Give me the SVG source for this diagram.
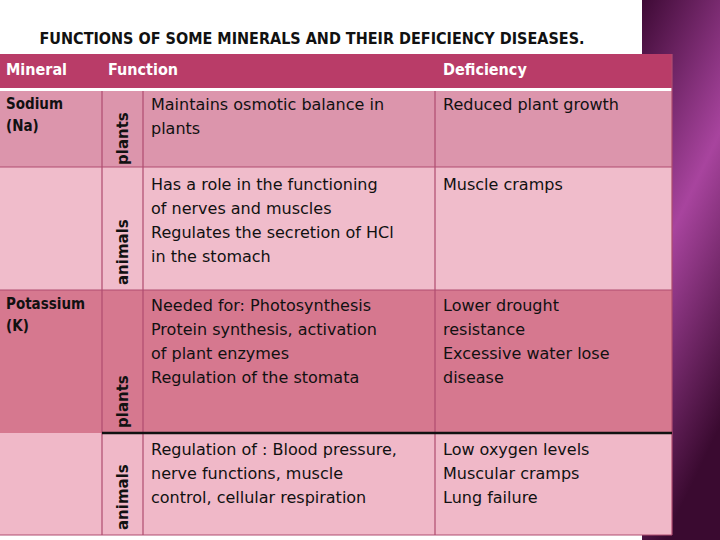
<svg xmlns="http://www.w3.org/2000/svg" width="720" height="540" viewBox="0 0 720 540">
<defs>
<linearGradient id="pg" x1="0" y1="0" x2="0.3" y2="1">
<stop offset="0" stop-color="#3e0a35"/><stop offset="0.5" stop-color="#a8449e"/><stop offset="1" stop-color="#3a0a30"/>
</linearGradient>
<style>
.t{font-family:"DejaVu Sans",sans-serif;font-size:16px;fill:#111}
.b{font-family:"DejaVu Sans Condensed","DejaVu Sans",sans-serif;font-weight:bold;font-size:15px;fill:#111}
.h{font-family:"DejaVu Sans Condensed","DejaVu Sans",sans-serif;font-weight:bold;font-size:16px;fill:#fff}
.v{font-family:"DejaVu Sans",sans-serif;font-weight:bold;font-size:15px;fill:#111}
.g{stroke:#b04c70;stroke-width:1.2;fill:none}
</style>
</defs>
<rect width="720" height="540" fill="#fff"/>
<rect x="642" y="0" width="78" height="540" fill="url(#pg)"/>
<text x="312" y="44" text-anchor="middle" class="b" textLength="545" lengthAdjust="spacingAndGlyphs">FUNCTIONS OF SOME MINERALS AND THEIR DEFICIENCY DISEASES.</text>
<g id="header">
<rect x="0" y="54" width="672" height="34" fill="#b93c68"/>
<text x="6" y="75" class="h">Mineral</text>
<text x="108" y="75" class="h">Function</text>
<text x="443" y="75" class="h">Deficiency</text>
</g>
<rect x="0" y="88" width="672" height="3" fill="#fff"/>
<g id="row1">
<rect x="0" y="91" width="672" height="76" fill="#dc95ac"/>
<text x="6" y="109" class="b">Sodium</text><text x="6" y="131" class="b">(Na)</text>
<text transform="translate(128,165) rotate(-90)" class="v">plants</text>
<text x="151" y="110" class="t">Maintains osmotic balance in</text><text x="151" y="134" class="t">plants</text>
<text x="443" y="110" class="t">Reduced plant growth</text>
</g>
<g id="row2">
<rect x="0" y="167" width="672" height="123" fill="#f0bccb"/>
<text transform="translate(128,285) rotate(-90)" class="v">animals</text>
<text x="151" y="190" class="t">Has a role in the functioning</text>
<text x="151" y="214" class="t">of nerves and muscles</text>
<text x="151" y="238" class="t">Regulates the secretion of HCl</text>
<text x="151" y="262" class="t">in the stomach</text>
<text x="443" y="190" class="t">Muscle cramps</text>
</g>
<g id="row3">
<rect x="0" y="290" width="672" height="143" fill="#d6788f"/>
<text x="6" y="309" class="b">Potassium</text><text x="6" y="331" class="b">(K)</text>
<text transform="translate(128,428) rotate(-90)" class="v">plants</text>
<text x="151" y="311" class="t">Needed for: Photosynthesis</text>
<text x="151" y="335" class="t">Protein synthesis, activation</text>
<text x="151" y="359" class="t">of plant enzymes</text>
<text x="151" y="383" class="t">Regulation of the stomata</text>
<text x="443" y="311" class="t">Lower drought</text>
<text x="443" y="335" class="t">resistance</text>
<text x="443" y="359" class="t">Excessive water lose</text>
<text x="443" y="383" class="t">disease</text>
</g>
<g id="row4">
<rect x="0" y="433" width="672" height="102" fill="#f0b8c8"/>
<text transform="translate(128,530) rotate(-90)" class="v">animals</text>
<text x="151" y="455" class="t">Regulation of : Blood pressure,</text>
<text x="151" y="479" class="t">nerve functions, muscle</text>
<text x="151" y="503" class="t">control, cellular respiration</text>
<text x="443" y="455" class="t">Low oxygen levels</text>
<text x="443" y="479" class="t">Muscular cramps</text>
<text x="443" y="503" class="t">Lung failure</text>
</g>
<g id="connectors">
<path class="g" d="M102 91V535M143 91V535M435 91V535M672 54V535M0 167H672M0 290H672M0 535H672"/>
<path d="M102 433H672" stroke="#111" stroke-width="2.5"/>
</g>
</svg>
